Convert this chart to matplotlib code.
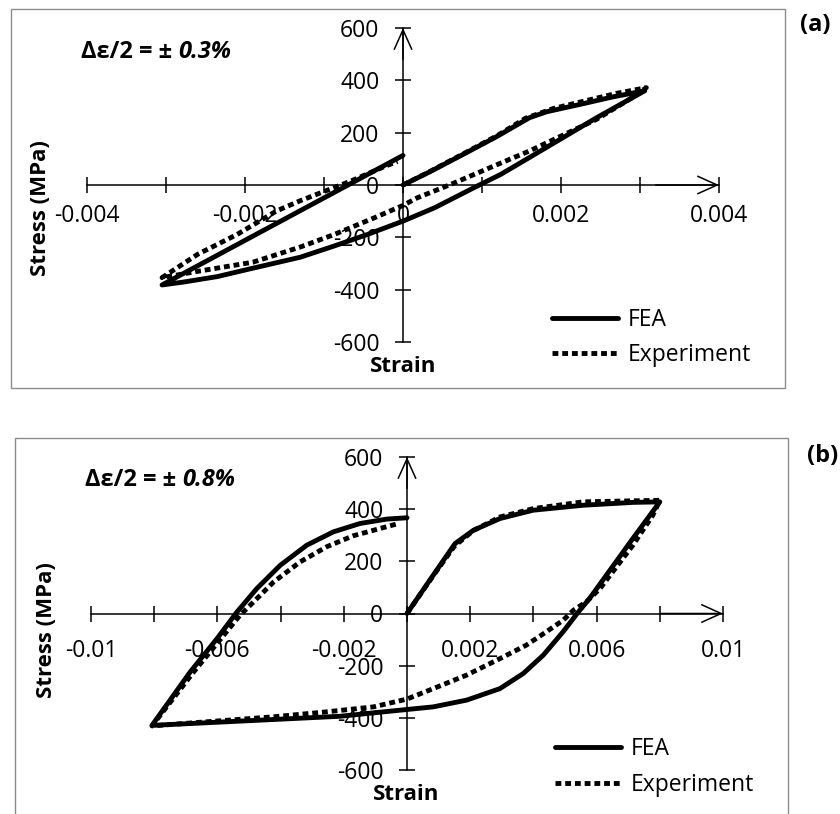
import numpy as np
import matplotlib
matplotlib.use("Agg")
import matplotlib.pyplot as plt
from matplotlib.patches import Rectangle

plt.rcParams['font.family'] = ['Open Sans', 'DejaVu Sans']

# ---- panel (a): strain amplitude 0.3 %
strain_a_fea = [0, 0.00033, 0.00078, 0.00118, 0.0016, 0.00182, 0.00224, 0.00266, 0.00306,
                0.00245, 0.0016, 0.00124, 0.0009, 0.0004, 0,
                -0.00045, -0.00087, -0.0013, -0.00193, -0.00235, -0.00278, -0.00305,
                0]
stress_a_fea = [0, 49, 120, 184, 257, 280, 308, 337, 360,
                257, 105, 41, -10, -87, -138,
                -189, -233, -276, -320, -350, -371, -382,
                113]

strain_a_exp = [0, 0.00033, 0.0008, 0.0012, 0.00155, 0.0019, 0.0022, 0.0027, 0.00308,
                0.00287, 0.00245, 0.002, 0.0016, 0.0012, 0.00061, 0.00018, 0,
                -0.00036, -0.00087, -0.0013, -0.0019, -0.0026, -0.00305,
                -0.0026, -0.0021, -0.0016, -0.0013, -0.00066, -0.00024, -0.00007]
stress_a_exp = [0, 50, 125, 190, 255, 292, 314, 350, 372,
                328, 251, 187, 130, 79, 3, -49, -78,
                -125, -189, -237, -295, -330, -354,
                -265, -189, -99, -60, 15, 70, 90]

# ---- panel (b): strain amplitude 0.8 %
strain_b_fea = [0, 0.00083, 0.00152, 0.0021, 0.00294, 0.00399, 0.00557, 0.00715, 0.008,
                0.00715, 0.00631, 0.00578, 0.00541, 0.00494, 0.00431, 0.00368, 0.00294,
                0.00189, 0.00083, 0, -0.00212, -0.00807,
                -0.00686, -0.00601, -0.00538, -0.00475, -0.00401, -0.00317, -0.00233,
                -0.00149, -0.00064, 0]
stress_b_fea = [0, 147, 268, 319, 364, 396, 415, 426, 428,
                288, 147, 58, 4, -70, -160, -230, -288,
                -332, -358, -368, -394, -429,
                -224, -96, 6, 96, 185, 262, 313,
                345, 362, 367]

strain_b_exp = [0, 0.00083, 0.0015, 0.0021, 0.00294, 0.00399, 0.00557, 0.00715, 0.008,
                0.00778, 0.00715, 0.00611, 0.00568, 0.00527, 0.00494, 0.00441, 0.00378,
                0.00294, 0.00189, 0.00083, 0, -0.00106, -0.00254, -0.00422, -0.00633,
                -0.00807, -0.00675, -0.00528, -0.00496, -0.00422, -0.00338, -0.00254,
                -0.0017, -0.00085, -0.00027]
stress_b_exp = [0, 145, 258, 318, 370, 402, 428, 432, 434,
                377, 262, 96, 45, 13, -26, -70, -121,
                -173, -236, -288, -328, -358, -377, -396, -415,
                -431, -224, -6, 32, 121, 198, 256,
                298, 326, 345]

yticks = [-600, -400, -200, 0, 200, 400, 600]
xticks_a = [-0.004, -0.002, 0, 0.002, 0.004]
xminor_a = [-0.003, -0.001, 0.001, 0.003]
xlabels_a = ['-0.004', '-0.002', '0', '0.002', '0.004']
xticks_b = [-0.01, -0.006, -0.002, 0.002, 0.006, 0.01]
xminor_b = [-0.008, -0.004, 0, 0.004, 0.008]
xlabels_b = ['-0.01', '-0.006', '-0.002', '0.002', '0.006', '0.01']

W, H = 840, 814
fig = plt.figure(figsize=(W / 100, H / 100), dpi=100)


def fx(x):
    return x / W


def fy(y):
    return 1 - y / H


def panel(box, ax_px, xs_f, ys_f, xs_e, ys_e, xlim, xt, xm, xl, xpad, amp,
          ann_xy, tag, tag_xy, stress_xy, strain_xy, leg_xy):
    x0, y0, x1, y1 = box
    fig.add_artist(Rectangle((fx(x0), fy(y1)), fx(x1 - x0), (y1 - y0) / H,
                             transform=fig.transFigure, fill=False,
                             ec='#8c8c8c', lw=1))
    l, t, r, b = ax_px
    ax = fig.add_axes([fx(l), fy(b), fx(r - l), (b - t) / H])
    ax.patch.set_alpha(0)
    ax.plot(xs_f, ys_f, color='black', lw=3.5, label='FEA',
            solid_joinstyle='round', solid_capstyle='round', zorder=3)
    ax.plot(xs_e, ys_e, color='black', lw=3.5, ls=(0, (1.2, 0.8)),
            label='Experiment', zorder=3)
    ax.set_xlim(xlim)
    ax.set_ylim(-600, 600)
    for s in ['top', 'right']:
        ax.spines[s].set_visible(False)
    ax.spines['left'].set_position(('data', 0))
    ax.spines['bottom'].set_position(('data', 0))
    for s in ['left', 'bottom']:
        ax.spines[s].set_linewidth(1.1)
    ax.set_xticks(xt)
    ax.set_xticklabels(xl)
    ax.set_xticks(xm, minor=True)
    ax.set_yticks(yticks)
    ax.set_yticklabels([str(v) for v in yticks])
    ax.tick_params(axis='both', which='both', direction='inout', length=11,
                   width=1.1, labelsize=16.5)
    ax.tick_params(axis='x', pad=xpad)
    ax.tick_params(axis='y', pad=11.5)
    # open arrow heads at the axis ends
    ax.annotate('', xy=(1, 0), xytext=(0.9, 0),
                xycoords=('axes fraction', 'data'),
                arrowprops=dict(arrowstyle='->,head_length=1.0,head_width=0.45',
                                mutation_scale=14, lw=1.1, shrinkA=0, shrinkB=0))
    ax.annotate('', xy=(0, 1), xytext=(0, 0.9),
                xycoords=('data', 'axes fraction'),
                arrowprops=dict(arrowstyle='->,head_length=1.0,head_width=0.45',
                                mutation_scale=14, lw=1.1, shrinkA=0, shrinkB=0))
    fig.text(fx(stress_xy[0]), fy(stress_xy[1]), 'Stress (MPa)', rotation=90,
             ha='center', va='center', weight='bold', fontsize=16)
    fig.text(fx(strain_xy[0]), fy(strain_xy[1]), 'Strain', ha='center',
             va='baseline', weight='bold', fontsize=16)
    t1 = fig.text(fx(ann_xy[0]), fy(ann_xy[1]), 'Δε/2 = ± ', weight='bold',
                  va='baseline', fontsize=17)
    ax.annotate(amp, xy=(1, 0), xycoords=t1, va='bottom', ha='left',
                weight='bold', style='italic', fontsize=17)
    fig.text(fx(tag_xy[0]), fy(tag_xy[1]), tag, weight='bold', fontsize=17,
             ha='left', va='center')
    ax.legend(loc='center left', bbox_to_anchor=(fx(leg_xy[0]), fy(leg_xy[1])),
              bbox_transform=fig.transFigure, frameon=False, fontsize=16.5,
              handlelength=2.9, handletextpad=0.4, labelspacing=0.5,
              borderpad=0, borderaxespad=0)
    return ax


panel((11, 9, 785, 388), (87, 28, 719, 342), strain_a_fea, stress_a_fea,
      strain_a_exp, stress_a_exp, (-0.004, 0.004), xticks_a, xminor_a, xlabels_a,
      8.3, '0.3%', (81, 58), '(a)', (800, 25), (40, 208), (403, 372), (552, 337.5))

panel((15, 438, 788, 830), (91, 457, 723, 770), strain_b_fea, stress_b_fea,
      strain_b_exp, stress_b_exp, (-0.01, 0.01), xticks_b, xminor_b, xlabels_b,
      12.6, '0.8%', (85, 486), '(b)', (807, 456), (47, 630), (406, 800), (555, 767))

fig.savefig('out.png', dpi=100)
